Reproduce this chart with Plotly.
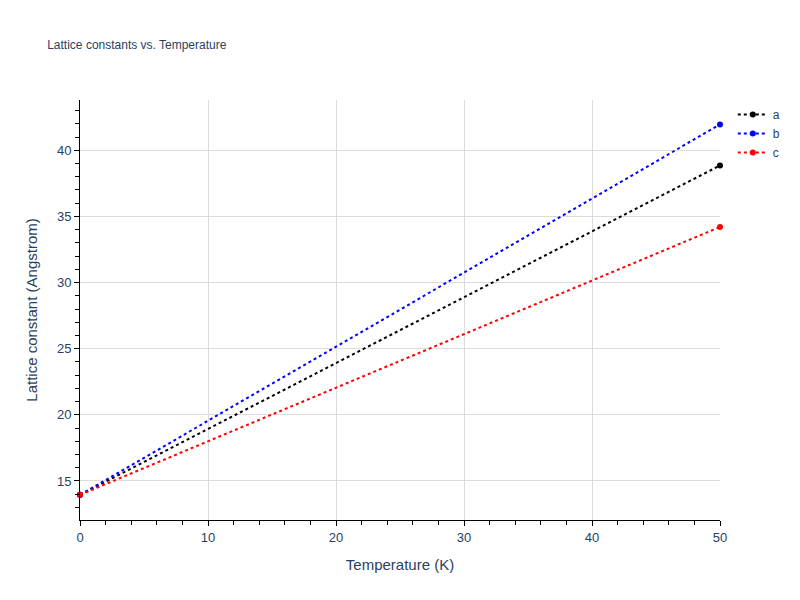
import plotly.graph_objects as go

temps = [0, 50]
a_vals = [13.95, 38.85]
b_vals = [13.95, 41.95]
c_vals = [13.95, 34.2]
names = ["a", "b", "c"]
colors = ["black", "blue", "red"]

fig = go.Figure()
for n, v, c in zip(names, [a_vals, b_vals, c_vals], colors):
    fig.add_trace(go.Scatter(x=temps, y=v, name=n, mode="lines+markers",
                             line=dict(color=c, dash="dot", width=2),
                             marker=dict(color=c, size=6), cliponaxis=False))

axis_common = dict(showline=True, linecolor="black", linewidth=1, ticks="outside",
                   ticklen=5, tickcolor="black", showgrid=True, gridcolor="#dcdcdc",
                   zeroline=False, title_font=dict(size=15), tickfont=dict(size=13))
fig.update_layout(
    width=800, height=600, plot_bgcolor="white", paper_bgcolor="white",
    title=dict(text="Lattice constants vs. Temperature", x=0.049, y=0.945, font=dict(size=12)),
    font=dict(color="#2a3f5f", family="Arial, Liberation Sans"),
    margin=dict(l=72, r=88, t=92, b=88),
    xaxis=dict(title="Temperature (K)", range=[0, 50], dtick=10,
               minor=dict(ticks="outside", ticklen=4, tickcolor="black", dtick=2, showgrid=False),
               **axis_common),
    yaxis=dict(title="Lattice constant (Angstrom)", range=[12.05, 43.8], dtick=5,
               minor=dict(ticks="outside", ticklen=4, tickcolor="black", dtick=1, showgrid=False),
               **axis_common),
    legend=dict(x=1.02, y=1, font=dict(size=12)),
)
fig.write_html("out.html")
